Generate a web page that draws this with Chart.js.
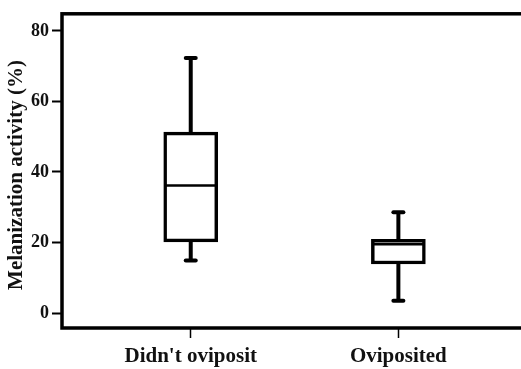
<!DOCTYPE html>
<html>
<head>
<meta charset="utf-8">
<script src="https://cdn.jsdelivr.net/npm/chart.js@4"></script>
<style>
html, body { margin: 0; padding: 0; background: #fff; overflow: hidden; }
#wrap { width: 540px; height: 369px; }
</style>
</head>
<body>
<div id="wrap"><canvas id="chart"></canvas></div>
<script>
const groups = ["Didn't oviposit", 'Oviposited'];
const groupPos = [1, 2];
const whiskerLow = [14.9, 3.5];
const q1 = [20.2, 13.9];
const median = [36.2, 19.5];
const q3 = [51.3, 20.9];
const whiskerHigh = [72.3, 28.6];
const yTicks = [0, 20, 40, 60, 80];
const yTitle = 'Melanization activity (%)';

Chart.defaults.font.family = 'Liberation Serif';
Chart.defaults.font.weight = 'bold';
Chart.defaults.color = '#111';

function line(ctx, x1, y1, x2, y2) {
    ctx.beginPath();
    ctx.moveTo(x1, y1);
    ctx.lineTo(x2, y2);
    ctx.stroke();
}

// whiskers under the boxes, median + frame + y title on top
const boxPlot = {
    id: 'boxPlot',
    beforeDatasetsDraw(chart) {
        const {ctx, scales: {x, y}} = chart;
        ctx.save();
        ctx.strokeStyle = '#000';
        groupPos.forEach((p, i) => {
            const cx = x.getPixelForValue(p);
            ctx.lineWidth = 4;
            ctx.lineCap = 'butt';
            line(ctx, cx, y.getPixelForValue(q3[i]), cx, y.getPixelForValue(whiskerHigh[i]));
            line(ctx, cx, y.getPixelForValue(q1[i]), cx, y.getPixelForValue(whiskerLow[i]));
            ctx.lineCap = 'round';
            line(ctx, cx - 5, y.getPixelForValue(whiskerHigh[i]), cx + 5, y.getPixelForValue(whiskerHigh[i]));
            line(ctx, cx - 5, y.getPixelForValue(whiskerLow[i]), cx + 5, y.getPixelForValue(whiskerLow[i]));
        });
        ctx.restore();
    },
    afterDatasetsDraw(chart) {
        const {ctx, chartArea: a, scales: {y}} = chart;
        const bars = chart.getDatasetMeta(0).data;
        ctx.save();
        ctx.strokeStyle = '#000';
        ctx.lineWidth = 2.5;
        bars.forEach((el, i) => {
            const my = y.getPixelForValue(median[i]);
            line(ctx, el.x - el.width / 2 + 2, my, el.x + el.width / 2 - 2, my);
        });
        ctx.lineWidth = 3.5;
        ctx.strokeRect(a.left, a.top, a.right - a.left, a.bottom - a.top);

        ctx.fillStyle = '#111';
        ctx.font = 'bold 21px "Liberation Serif"';
        ctx.textAlign = 'center';
        ctx.textBaseline = 'middle';
        ctx.translate(16.5, 175);
        ctx.rotate(-Math.PI / 2);
        ctx.fillText(yTitle, 0, 0);
        ctx.restore();
    }
};

new Chart(document.getElementById('chart'), {
    type: 'bar',
    data: {
        datasets: [{
            data: groupPos.map((p, i) => ({x: p, y: [q1[i], q3[i]]})),
            backgroundColor: '#fff',
            borderColor: '#000',
            borderWidth: 3.5,
            borderSkipped: false,
            barThickness: 54
        }]
    },
    options: {
        responsive: true,
        maintainAspectRatio: false,
        animation: false,
        layout: { padding: { top: 8, right: 5, left: 0, bottom: 0 } },
        plugins: { legend: { display: false }, tooltip: { enabled: false } },
        scales: {
            x: {
                type: 'linear',
                min: 0.38,
                max: 2.658,
                offset: false,
                afterBuildTicks: s => { s.ticks = groupPos.map(v => ({value: v})); },
                afterFit: s => { s.height = 41; },
                grid: { offset: false, drawOnChartArea: false, tickLength: 10, tickColor: '#000', tickWidth: 1.5 },
                border: { display: false },
                ticks: { font: { size: 21 }, padding: 6, maxRotation: 0, callback: (v, i) => groups[i] }
            },
            y: {
                min: -4.25,
                max: 84.87,
                afterBuildTicks: s => { s.ticks = yTicks.map(v => ({value: v})); },
                afterFit: s => { s.width = 62; },
                grid: { drawOnChartArea: false, tickLength: 10, tickColor: '#000', tickWidth: 2 },
                border: { display: false },
                ticks: { font: { size: 18 }, padding: 3 }
            }
        }
    },
    plugins: [boxPlot]
});
</script>
</body>
</html>
